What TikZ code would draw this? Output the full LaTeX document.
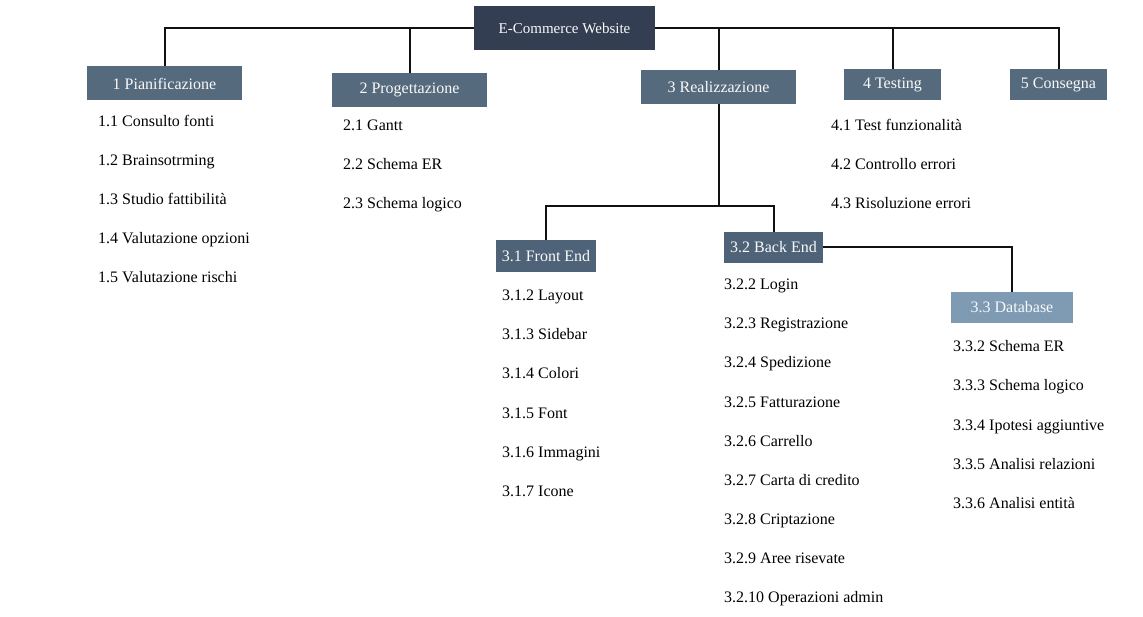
\documentclass[tikz,border=0pt]{standalone}
\usepackage{fontspec}
\setmainfont{Liberation Serif}
\definecolor{topc}{HTML}{343E52}
\definecolor{lvone}{HTML}{566A7D}
\definecolor{lvtwo}{HTML}{4F6378}
\definecolor{lvdb}{HTML}{7E9BB3}
\definecolor{linec}{HTML}{111111}
\tikzset{
  wbox/.style={fill=#1, text=white!95!gray, inner sep=0pt, font=\fontsize{16}{18}\selectfont},
  item/.style={anchor=base west, inner sep=0pt, font=\fontsize{16}{18}\selectfont, text=black},
  conn/.style={draw=linec, line width=2pt},
}
\begin{document}
\begin{tikzpicture}[x=1pt,y=-1pt]
\useasboundingbox (0,0) rectangle (1143,617);
\fill[white] (0,0) rectangle (1143,617);
% boxes
\node[wbox=topc, minimum width=181pt, minimum height=44pt, font=\fontsize{15}{17}\selectfont] (top) at (564.5,28) {E-Commerce Website};
\node[wbox=lvone, minimum width=155pt, minimum height=34pt] (b1) at (164.5,83.5) {1 Pianificazione};
\node[wbox=lvone, minimum width=155pt, minimum height=34pt] (b2) at (409.5,90) {2 Progettazione};
\node[wbox=lvone, minimum width=155pt, minimum height=34pt] (b3) at (718.5,87) {3 Realizzazione};
\node[wbox=lvone, minimum width=97pt, minimum height=31pt] (b4) at (892.5,84.5) {4 Testing};
\node[wbox=lvone, minimum width=97pt, minimum height=31pt] (b5) at (1058.5,84.5) {5 Consegna};
\node[wbox=lvtwo, minimum width=100pt, minimum height=32pt] (fe) at (546,256) {3.1 Front End};
\node[wbox=lvtwo, minimum width=99pt, minimum height=31pt] (be) at (773.5,247.5) {3.2 Back End};
\node[wbox=lvdb, minimum width=122pt, minimum height=31pt] (db) at (1012,307.5) {3.3 Database};
% connectors
\coordinate (split) at (718.5,206);
\draw[conn] (top.west) -| (b1.north);
\draw[conn] (top.west) -| (b2.north);
\draw[conn] (top.east) -| (b3.north);
\draw[conn] (top.east) -| (b4.north);
\draw[conn] (top.east) -| (b5.north);
\draw[conn] (b3.south) -- (split);
\draw[conn] (fe.north) |- (split) -| (be.north);
\draw[conn] (be.east) -| (db.north);
% lists
\node[item] (i11) at (98,126.5) {1.1 Consulto fonti};
\node[item] (i12) at (98,165.5) {1.2 Brainsotrming};
\node[item] (i13) at (98,204.5) {1.3 Studio fattibilità};
\node[item] (i14) at (98,243.5) {1.4 Valutazione opzioni};
\node[item] (i15) at (98,282.5) {1.5 Valutazione rischi};
\node[item] (i21) at (343,131) {2.1 Gantt};
\node[item] (i22) at (343,170) {2.2 Schema ER};
\node[item] (i23) at (343,209) {2.3 Schema logico};
\node[item] (i41) at (831,130.5) {4.1 Test funzionalità};
\node[item] (i42) at (831,169.5) {4.2 Controllo errori};
\node[item] (i43) at (831,208.5) {4.3 Risoluzione errori};
\node[item] (f2) at (502,301) {3.1.2 Layout};
\node[item] (f3) at (502,340) {3.1.3 Sidebar};
\node[item] (f4) at (502,379) {3.1.4 Colori};
\node[item] (f5) at (502,418) {3.1.5 Font};
\node[item] (f6) at (502,457) {3.1.6 Immagini};
\node[item] (f7) at (502,496) {3.1.7 Icone};
\node[item] (k2) at (724,290) {3.2.2 Login};
\node[item] (k3) at (724,329) {3.2.3 Registrazione};
\node[item] (k4) at (724,368) {3.2.4 Spedizione};
\node[item] (k5) at (724,407) {3.2.5 Fatturazione};
\node[item] (k6) at (724,446) {3.2.6 Carrello};
\node[item] (k7) at (724,485) {3.2.7 Carta di credito};
\node[item] (k8) at (724,524) {3.2.8 Criptazione};
\node[item] (k9) at (724,563) {3.2.9 Aree risevate};
\node[item] (k10) at (724,602) {3.2.10 Operazioni admin};
\node[item] (d2) at (953,352) {3.3.2 Schema ER};
\node[item] (d3) at (953,391) {3.3.3 Schema logico};
\node[item] (d4) at (953,430) {3.3.4 Ipotesi aggiuntive};
\node[item] (d5) at (953,469) {3.3.5 Analisi relazioni};
\node[item] (d6) at (953,508) {3.3.6 Analisi entità};
\end{tikzpicture}
\end{document}
